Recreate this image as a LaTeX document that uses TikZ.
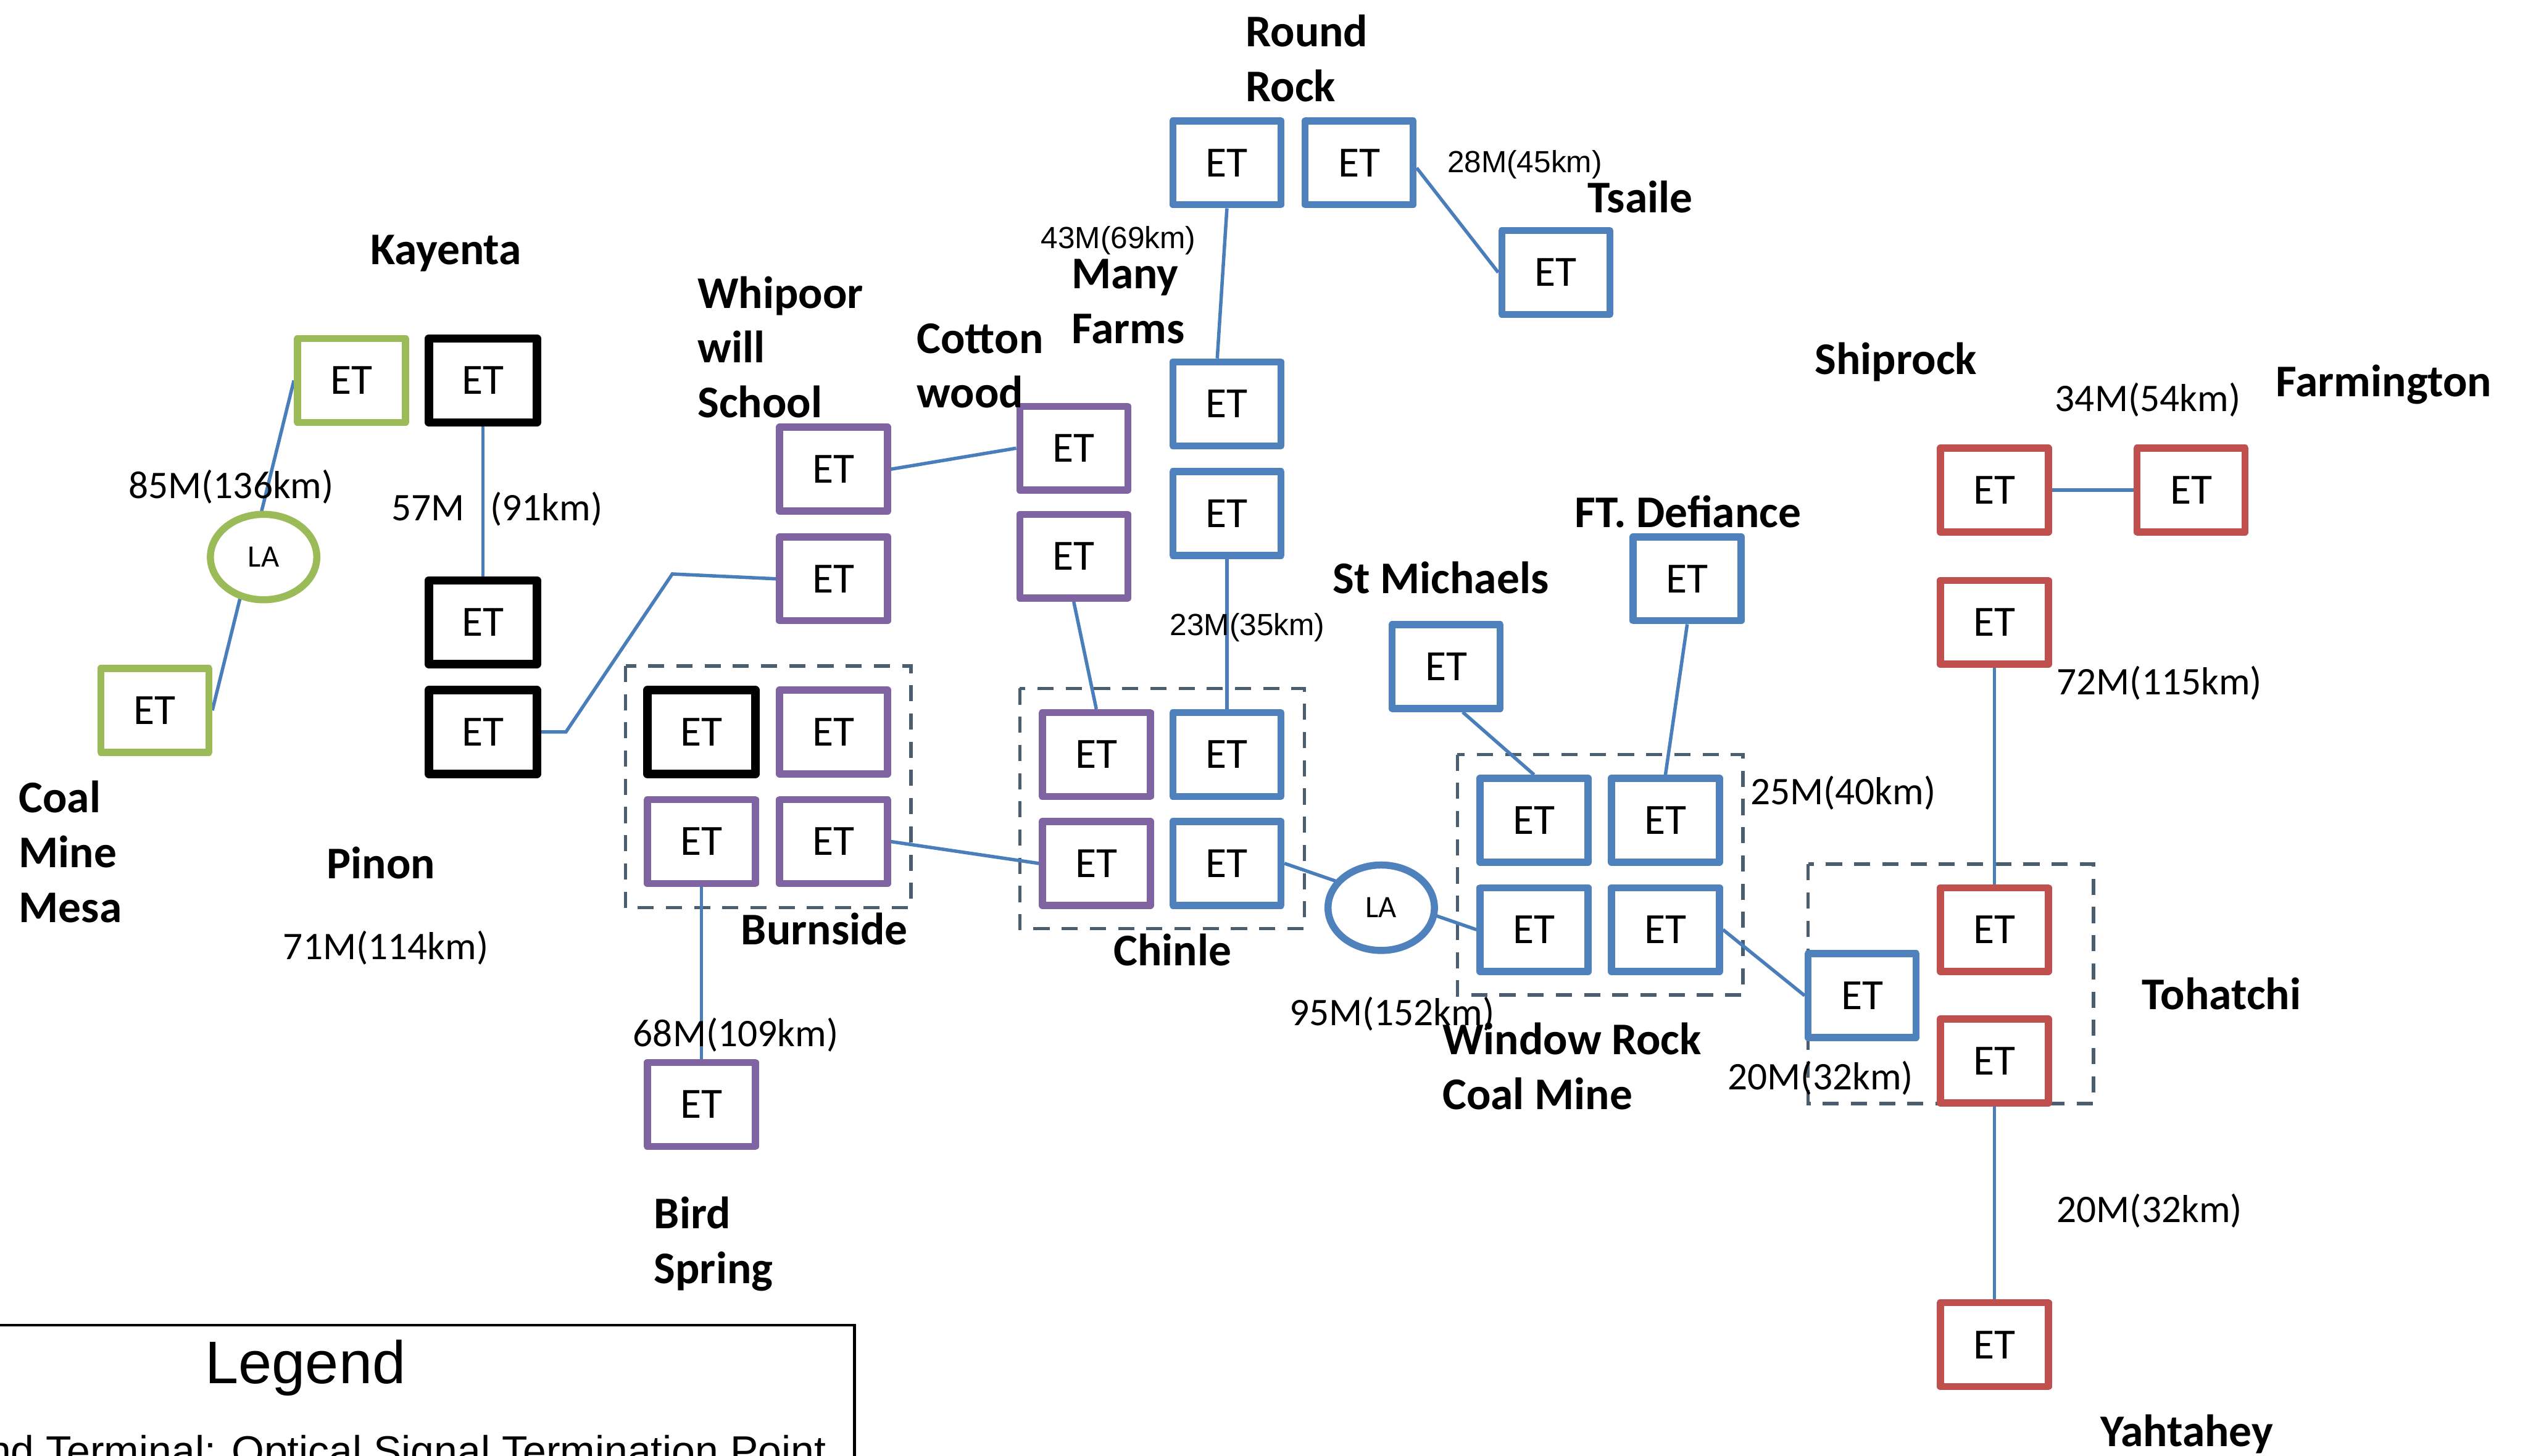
\documentclass[tikz,border=0pt]{standalone}
\usepackage{fontspec}
\setmainfont{Carlito}
\newfontfamily\arialfont{Liberation Sans}
\usetikzlibrary{shapes.geometric}
\pgfdeclarelayer{bg}
\pgfsetlayers{bg,main}
\definecolor{etblue}{HTML}{4F81BD}
\definecolor{etred}{HTML}{C0504D}
\definecolor{etgreen}{HTML}{9BBB59}
\definecolor{etpurple}{HTML}{8064A2}
\definecolor{connblue}{HTML}{4A7EBB}
\definecolor{grpgray}{HTML}{4B5E70}
\begin{document}
\begin{tikzpicture}[x=0.1mm,y=-0.1mm,
  etbox/.style={draw, fill=white, line width=0.44mm, line join=round,
    minimum width=6.7mm, minimum height=5.2mm, inner sep=0pt,
    font=\fontsize{7.6}{9}\selectfont},
  bluebox/.style={etbox, draw=etblue},
  redbox/.style={etbox, draw=etred},
  greenbox/.style={etbox, draw=etgreen},
  purplebox/.style={etbox, draw=etpurple},
  blackbox/.style={etbox, draw=black, line width=0.52mm},
  laell/.style={ellipse, draw, fill=white, line width=0.44mm,
    minimum width=6.6mm, minimum height=5.3mm, inner sep=0pt,
    font=\fontsize{5.5}{6}\selectfont},
  conn/.style={draw=connblue, line width=0.6pt},
  grp/.style={draw=grpgray, line width=0.6pt, dash pattern=on 1mm off 0.75mm},
  place/.style={font=\fontsize{8}{9.67}\selectfont\bfseries, align=left,
    anchor=base west, inner sep=0pt},
  dist/.style={font=\fontsize{6.9}{8}\selectfont, anchor=base west, inner sep=0pt},
  sdist/.style={font=\arialfont\fontsize{5.4}{6}\selectfont, anchor=base west, inner sep=0pt},
]
\useasboundingbox (0,0) rectangle (1568,903);
\clip (0,0) rectangle (1568,903);

% ---- ET nodes ----
\node[greenbox] (kayG) at (218,236) {ET};
\node[blackbox] (kayB) at (299.5,236) {ET};
\node[greenbox] (cmm) at (96,440.6) {ET};
\node[laell, draw=etgreen] (laG) at (163.5,345.5) {LA};
\node[blackbox] (pinU) at (299.5,386) {ET};
\node[blackbox] (pinL) at (299.5,454) {ET};
\node[blackbox] (burB) at (435,454) {ET};
\node[purplebox] (burTR) at (517,454) {ET};
\node[purplebox] (burBL) at (435,522) {ET};
\node[purplebox] (burBR) at (517,522) {ET};
\node[purplebox] (bird) at (435,685) {ET};
\node[purplebox] (whipU) at (517,291) {ET};
\node[purplebox] (whipL) at (517,359) {ET};
\node[purplebox] (cotU) at (666,278) {ET};
\node[purplebox] (cotL) at (666,345) {ET};
\node[purplebox] (chTL) at (680,468) {ET};
\node[purplebox] (chBL) at (680,535.5) {ET};
\node[bluebox] (chTR) at (761,468) {ET};
\node[bluebox] (chBR) at (761,535.5) {ET};
\node[bluebox] (rrL) at (761,101) {ET};
\node[bluebox] (rrR) at (843,101) {ET};
\node[bluebox] (tsaile) at (965,169) {ET};
\node[bluebox] (mfU) at (761,250.5) {ET};
\node[bluebox] (mfL) at (761,318.5) {ET};
\node[bluebox] (stM) at (897,413.5) {ET};
\node[bluebox] (ftD) at (1046.5,359) {ET};
\node[bluebox] (wrTL) at (951.5,508.7) {ET};
\node[bluebox] (wrTR) at (1033,508.7) {ET};
\node[bluebox] (wrBL) at (951.5,576.6) {ET};
\node[bluebox] (wrBR) at (1033,576.6) {ET};
\node[laell, draw=etblue] (laB) at (856.7,563) {LA};
\node[bluebox] (tohB) at (1155,617.5) {ET};
\node[redbox] (shU) at (1237,304) {ET};
\node[redbox] (farm) at (1359,304) {ET};
\node[redbox] (shL) at (1237,386) {ET};
\node[redbox] (tohU) at (1237,576.6) {ET};
\node[redbox] (tohL) at (1237,658) {ET};
\node[redbox] (yaht) at (1237,834) {ET};

\coordinate (k1) at (351,454);
\coordinate (k2) at (417,356);

% ---- groups and connectors (behind) ----
\begin{pgfonlayer}{bg}
\draw[grp] (388,413) rectangle (565,563);
\draw[grp] (632.5,427) rectangle (809,576);
\draw[grp] (904,468) rectangle (1081,617);
\draw[grp] (1121.5,536) rectangle (1298.5,684.5);

\draw[conn] (cmm.east) -- (kayG.west);
\draw[conn] (kayB.south) -- (pinU.north);
\draw[conn] (pinL.east) -- (k1) -- (k2) -- (whipL.west);
\draw[conn] (whipU.east) -- (cotU.west);
\draw[conn] (cotL.south) -- (chTL.north);
\draw[conn] (burBR.east) -- (chBL.west);
\draw[conn] (burBL.south) -- (bird.north);
\draw[conn] (rrL.south) -- (mfU.102);
\draw[conn] (rrR.-5) -- (tsaile.west);
\draw[conn] (mfL.south) -- (chTR.north);
\draw[conn] (chBR.east) -- (wrBL.west);
\draw[conn] (stM.-70) -- (wrTL.north);
\draw[conn] (ftD.south) -- (wrTR.north);
\draw[conn] (wrBR.east) -- (tohB.west);
\draw[conn] (shU.east) -- (farm.west);
\draw[conn] (shL.south) -- (tohU.north);
\draw[conn] (tohL.south) -- (yaht.north);
\end{pgfonlayer}

% ---- place names (anchor = baseline of last line) ----
\node[place] (tRR) at (772,63) {Round\\Rock};
\node[place] (tTs) at (984,132) {Tsaile};
\node[place] (tMF) at (664,213) {Many\\Farms};
\node[place] (tKa) at (229,164) {Kayenta};
\node[place] (tWh) at (432,259) {Whipoor\\will\\School};
\node[place] (tCo) at (568,253) {Cotton\\wood};
\node[place] (tSh) at (1125,232) {Shiprock};
\node[place] (tFa) at (1411,246) {Farmington};
\node[place] (tFD) at (976,327) {FT. Defiance};
\node[place] (tSM) at (826,368) {St Michaels};
\node[place] (tCM) at (11,572) {Coal\\Mine\\Mesa};
\node[place] (tPi) at (202,545) {Pinon};
\node[place] (tBu) at (459,586) {Burnside};
\node[place] (tCh) at (690,599) {Chinle};
\node[place] (tTo) at (1328,626) {Tohatchi};
\node[place] (tWR) at (894,688) {Window Rock\\Coal Mine};
\node[place] (tBS) at (405,796) {Bird\\Spring};
\node[place] (tYa) at (1302,897) {Yahtahey};

% ---- distances ----
\node[dist] (d1) at (79,309) {85M(136km)};
\node[dist] (d2) at (242,323) {57M\hspace{1.6mm}(91km)};
\node[dist] (d3) at (175,595) {71M(114km)};
\node[dist] (d4) at (392,649) {68M(109km)};
\node[dist] (d5) at (1274,255) {34M(54km)};
\node[dist] (d6) at (1275,431) {72M(115km)};
\node[dist] (d7) at (1085,499) {25M(40km)};
\node[dist] (d8) at (799,636) {95M(152km)};
\node[dist] (d9) at (1071,676) {20M(32km)};
\node[dist] (d10) at (1275,758) {20M(32km)};
\node[sdist] (d11) at (897,107) {28M(45km)};
\node[sdist] (d12) at (645,154) {43M(69km)};
\node[sdist] (d13) at (725,394) {23M(35km)};

% ---- legend ----
\draw[line width=0.45pt] (-20,822) -- (530,822) -- (530,950);
\node[font=\arialfont\fontsize{10.6}{12}\selectfont, anchor=base, inner sep=0pt] (leg) at (189.5,858) {Legend};
\node[font=\arialfont\fontsize{7.4}{9}\selectfont, anchor=base east, inner sep=0pt] (legtxt) at (513,909) {End Terminal: Optical Signal Termination Point};
\end{tikzpicture}
\end{document}
